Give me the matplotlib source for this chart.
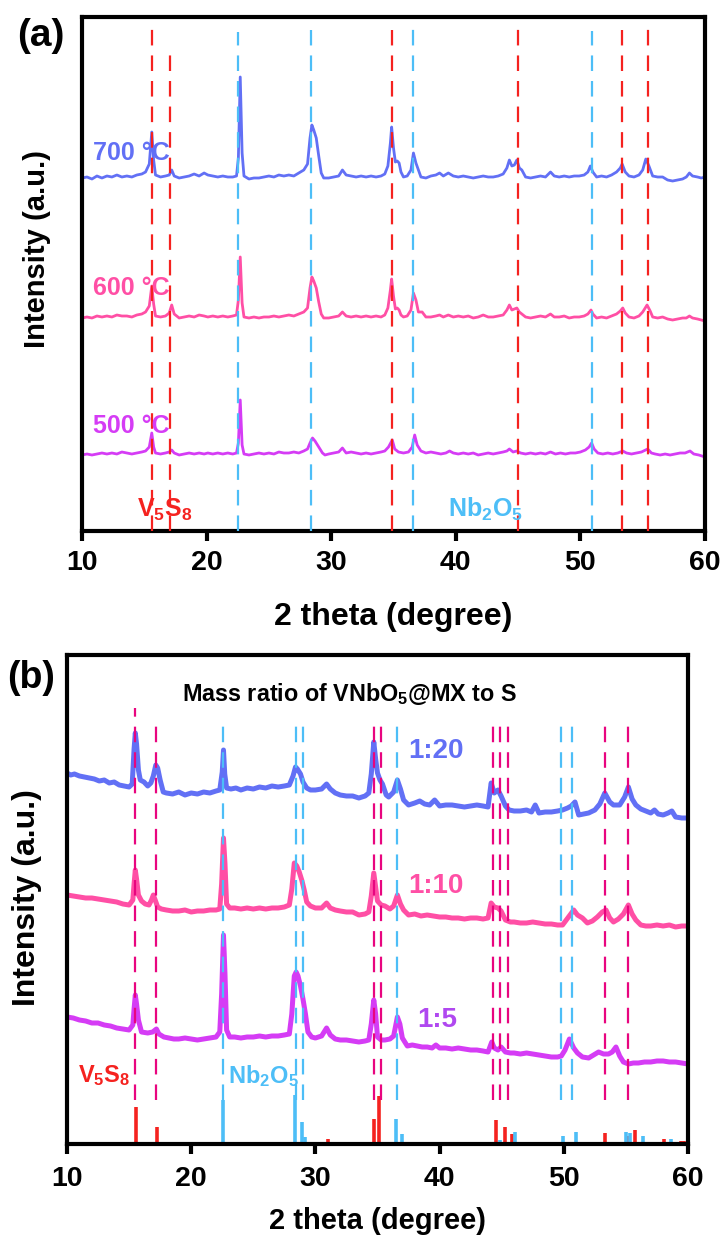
import matplotlib
matplotlib.use("Agg")
import matplotlib.pyplot as plt
import numpy as np

plt.rcParams['font.family'] = ['Liberation Sans', 'DejaVu Sans']
plt.rcParams['font.weight'] = 'bold'
plt.rcParams['mathtext.fontset'] = 'custom'
plt.rcParams['mathtext.rm'] = 'Liberation Sans:bold'
plt.rcParams['mathtext.bf'] = 'Liberation Sans:bold'
plt.rcParams['mathtext.it'] = 'Liberation Sans:bold:italic'

# ---------------- Panel (a): calcination temperature ----------------
a_x_700 = [10.0, 10.4, 10.8, 11.2, 11.6, 12.0, 12.4, 12.8, 13.2, 13.6, 14.0, 14.4, 14.8, 15.1, 15.4, 15.6, 15.75, 15.9,
           16.3, 16.7, 17.0, 17.2, 17.4, 17.8, 18.2, 18.6, 19.0, 19.4, 19.8, 20.1, 20.5, 20.9, 21.3, 21.7, 22.1, 22.4,
           22.55, 22.7, 22.85, 23.0, 23.4, 23.8, 24.2, 24.6, 25.0, 25.4, 25.8, 26.2, 26.6, 27.0, 27.4, 27.8, 28.1, 28.3,
           28.45, 28.6, 28.8, 29.0, 29.2, 29.4, 29.8, 30.2, 30.6, 30.9, 31.2, 31.6, 32.0, 32.4, 32.8, 33.2, 33.6, 34.0,
           34.3, 34.55, 34.75, 34.85, 35.0, 35.15, 35.3, 35.45, 35.6, 35.8, 36.1, 36.4, 36.6, 36.8, 37.0, 37.2, 37.6,
           38.0, 38.4, 38.7, 39.0, 39.4, 39.8, 40.2, 40.6, 41.0, 41.4, 41.8, 42.2, 42.6, 43.0, 43.4, 43.8, 44.1, 44.3,
           44.5, 44.7, 44.9, 45.1, 45.3, 45.6, 46.0, 46.4, 46.8, 47.2, 47.6, 47.9, 48.3, 48.7, 49.1, 49.5, 49.9, 50.3,
           50.6, 50.8, 51.0, 51.3, 51.7, 52.1, 52.5, 52.9, 53.2, 53.35, 53.6, 53.9, 54.3, 54.7, 55.0, 55.25, 55.5, 55.8,
           56.2, 56.6, 57.0, 57.4, 57.8, 58.2, 58.5, 58.75, 59.0, 59.4, 59.7, 60.0]
a_y_700 = [0, 1, -1, 2, 0, 2, 1, 3, 1, 2, 1, 3, 4, 6, 14, 46, 18, 3,
           1, 2, 3, 8, 2, 0, 1, 2, 4, 2, 5, 3, 2, 1, 2, 1, 1, 2,
           20, 101, 25, 2, -1, 0, 0, 1, 2, 1, 3, 2, 3, 2, 5, 8, 14, 40,
           53, 48, 40, 22, 5, 0, 0, 1, 2, 8, 3, 2, 1, 2, 1, 2, 1, 2,
           4, 12, 35, 51, 30, 16, 17, 15, 6, 1, 2, 8, 25, 15, 8, 1, 0,
           2, 3, 5, 2, 5, 2, 1, 2, 1, 0, 1, 2, 1, 1, 2, 4, 10, 18,
           12, 13, 18, 10, 8, 1, 0, 1, 2, 1, 6, 2, 1, 2, 1, 2, 2, 3,
           6, 12, 6, 1, 2, 1, 3, 6, 10, 14, 6, 2, 1, 3, 8, 19, 12, 2,
           1, 1, -2, -3, -2, -1, 1, 5, 2, 1, 0, 1]

a_x_600 = [10.0, 10.4, 10.8, 11.2, 11.6, 12.0, 12.4, 12.8, 13.2, 13.6, 14.0, 14.4, 14.8, 15.1, 15.4, 15.6, 15.75, 15.9,
           16.3, 16.7, 17.0, 17.2, 17.4, 17.8, 18.2, 18.6, 19.0, 19.4, 19.8, 20.1, 20.5, 20.9, 21.3, 21.7, 22.1, 22.4,
           22.55, 22.7, 22.85, 23.0, 23.4, 23.8, 24.2, 24.6, 25.0, 25.4, 25.8, 26.2, 26.6, 27.0, 27.4, 27.8, 28.1, 28.3,
           28.45, 28.6, 28.8, 29.0, 29.2, 29.4, 29.8, 30.2, 30.6, 30.9, 31.2, 31.6, 32.0, 32.4, 32.8, 33.2, 33.6, 34.0,
           34.3, 34.55, 34.75, 34.85, 35.0, 35.15, 35.3, 35.45, 35.6, 35.8, 36.1, 36.4, 36.6, 36.8, 37.0, 37.3, 37.6,
           38.0, 38.4, 38.7, 39.0, 39.4, 39.8, 40.2, 40.6, 41.0, 41.4, 41.8, 42.2, 42.6, 43.0, 43.4, 43.8, 44.1, 44.3,
           44.5, 44.7, 44.9, 45.1, 45.3, 45.6, 46.0, 46.4, 46.8, 47.2, 47.6, 47.9, 48.3, 48.7, 49.1, 49.5, 49.9, 50.3,
           50.6, 50.85, 51.0, 51.3, 51.7, 52.1, 52.5, 52.9, 53.2, 53.4, 53.6, 53.9, 54.3, 54.7, 55.0, 55.35, 55.6, 55.8,
           56.2, 56.6, 57.0, 57.4, 57.8, 58.2, 58.5, 58.75, 59.0, 59.4, 59.7, 60.0]
a_y_600 = [0, 1, 0, 2, 1, 2, 1, 3, 2, 2, 1, 3, 4, 6, 12, 32, 14, 2,
           1, 2, 5, 13, 4, 0, 1, 2, 1, 3, 2, 1, 2, 1, 2, 1, 2, 3,
           18, 61, 15, 1, 0, 1, 0, 1, 1, 2, 1, 2, 3, 2, 4, 6, 10, 30,
           41, 37, 30, 16, 4, 0, 0, 1, 2, 6, 2, 1, 2, 1, 2, 1, 2, 1,
           3, 10, 28, 39, 22, 9, 10, 8, 3, 1, 2, 8, 25, 18, 6, 6, 1,
           1, 2, 3, 1, 3, 1, 2, 1, 2, 0, 1, 3, 1, 1, 2, 3, 8, 13,
           8, 9, 10, 6, 4, 1, 0, 1, 2, 1, 4, 1, 1, 2, 0, 1, 1, 2,
           4, 8, 4, 0, 1, 0, 2, 4, 7, 10, 5, 1, 0, 2, 6, 13, 7, 1,
           0, 1, -1, -2, -1, 0, 0, 2, 0, -1, -2, -3]

a_x_500 = [10.0, 10.4, 10.8, 11.2, 11.6, 12.0, 12.4, 12.8, 13.2, 13.6, 14.0, 14.4, 14.8, 15.1, 15.4, 15.6, 15.75, 15.9,
           16.3, 16.7, 17.0, 17.2, 17.4, 17.8, 18.2, 18.6, 19.0, 19.4, 19.8, 20.1, 20.5, 20.9, 21.3, 21.7, 22.1, 22.4,
           22.55, 22.7, 22.85, 23.0, 23.4, 23.8, 24.2, 24.6, 25.0, 25.4, 25.8, 26.2, 26.6, 27.0, 27.4, 27.8, 28.1, 28.3,
           28.5, 28.7, 28.9, 29.1, 29.3, 29.5, 29.8, 30.2, 30.6, 30.9, 31.2, 31.6, 32.0, 32.4, 32.8, 33.2, 33.6, 34.0,
           34.3, 34.6, 34.9, 35.1, 35.4, 35.8, 36.2, 36.5, 36.7, 36.9, 37.2, 37.6, 38.0, 38.4, 38.8, 39.2, 39.5, 39.8,
           40.2, 40.6, 41.0, 41.4, 41.8, 42.2, 42.6, 43.0, 43.4, 43.8, 44.1, 44.3, 44.6, 44.9, 45.2, 45.6, 46.0, 46.4,
           46.8, 47.2, 47.6, 48.0, 48.4, 48.8, 49.2, 49.6, 50.0, 50.4, 50.7, 50.9, 51.1, 51.4, 51.8, 52.2, 52.6, 53.0,
           53.4, 53.7, 54.1, 54.5, 54.9, 55.4, 55.7, 56.0, 56.4, 56.8, 57.2, 57.6, 58.0, 58.4, 58.8, 59.1, 59.5, 60.0]
a_y_500 = [0, 1, 0, 1, 2, 1, 2, 1, 3, 2, 1, 2, 3, 4, 8, 22, 8, 2,
           1, 2, 3, 5, 2, 0, 1, 2, 1, 2, 1, 2, 1, 2, 1, 2, 1, 2,
           12, 55, 10, 1, 0, 1, 2, 1, 2, 1, 3, 2, 2, 3, 2, 4, 6, 12,
           17, 14, 10, 6, 2, 0, 1, 2, 3, 7, 2, 3, 2, 1, 2, 1, 2, 3,
           4, 8, 15, 6, 3, 2, 3, 8, 20, 10, 4, 2, 3, 2, 1, 2, 4, 2,
           1, 2, 1, 2, 0, 1, 2, 1, 2, 3, 4, 6, 3, 4, 2, 1, 2, 1,
           2, 1, 3, 1, 2, 1, 2, 2, 3, 5, 8, 12, 6, 2, 1, 2, 1, 2,
           4, 2, 1, 2, 3, 6, 2, 1, 0, 1, 0, 1, 2, 2, 4, 1, 0, -2]

a_offsets = [353, 213, 76]
a_labels = ["700 °C", "600 °C", "500 °C"]
a_label_y = [371, 236, 98]

a_v5s8_pos = [15.6, 17.1, 34.9, 45.0, 53.3, 55.4]
a_v5s8_top = [506, 484, 501, 503, 501, 503]
a_nb2o5_pos = [22.5, 28.4, 36.6, 50.9]
a_nb2o5_top = [499, 501, 502, 500]

# ---------------- Panel (b): mass ratio ----------------
b_x_20 = [10.0, 10.3, 10.6, 11.0, 11.4, 11.8, 12.2, 12.6, 13.0, 13.4, 13.8, 14.2, 14.6, 15.0, 15.25, 15.4, 15.5, 15.6,
          15.75, 15.9, 16.2, 16.5, 16.75, 16.95, 17.15, 17.3, 17.5, 17.75, 18.0, 18.5, 19.0, 19.5, 20.0, 20.5, 21.0,
          21.5, 22.0, 22.3, 22.5, 22.6, 22.7, 22.85, 23.2, 23.6, 24.0, 24.5, 25.0, 25.5, 26.0, 26.5, 27.0, 27.5, 27.9,
          28.2, 28.4, 28.55, 28.8, 29.0, 29.3, 29.6, 30.0, 30.5, 30.9, 31.2, 31.6, 32.0, 32.5, 33.0, 33.5, 34.0, 34.3,
          34.5, 34.7, 34.85, 35.0, 35.2, 35.4, 35.7, 35.9, 36.3, 36.6, 36.85, 37.1, 37.5, 38.0, 38.4, 38.8, 39.2, 39.6,
          40.0, 40.5, 41.0, 41.5, 42.0, 42.5, 43.0, 43.5, 43.9, 44.15, 44.4, 44.7, 44.95, 45.3, 45.6, 46.0, 46.5, 47.0,
          47.4, 47.7, 48.0, 48.5, 49.0, 49.5, 49.9, 50.3, 50.6, 50.9, 51.2, 51.6, 52.0, 52.5, 52.9, 53.3, 53.7, 54.0,
          54.5, 54.9, 55.2, 55.5, 55.8, 56.2, 56.6, 57.0, 57.3, 57.6, 58.0, 58.4, 58.7, 59.0, 59.5, 60.0]
b_y_20 = [371, 369, 370, 368, 367, 366, 365, 363, 364, 361, 362, 359, 358, 357, 360, 395, 411, 400,
          374, 364, 362, 358, 361, 368, 379, 376, 364, 352, 351, 350, 352, 349, 351, 350, 352,
          351, 353, 354, 372, 394, 370, 356, 355, 356, 354, 356, 355, 357, 356, 358, 357, 358, 359,
          368, 377, 375, 370, 362, 356, 354, 354, 355, 360, 355, 351, 349, 348, 348, 346, 348, 351,
          370, 402, 385, 371, 364, 360, 349, 347, 352, 364, 355, 344, 339, 341, 343, 340, 339, 344,
          338, 339, 339, 338, 337, 338, 339, 338, 337, 361, 351, 354, 348, 338, 334, 333, 333, 334,
          332, 339, 331, 332, 332, 333, 334, 336, 338, 342, 329, 330, 331, 334, 340, 351, 342, 339,
          339, 347, 357, 345, 339, 335, 333, 331, 334, 330, 329, 331, 333, 327, 326, 326]

b_x_10 = [10.0, 10.5, 11.0, 11.5, 12.0, 12.5, 13.0, 13.5, 14.0, 14.5, 15.0, 15.3, 15.4, 15.5, 15.6, 15.75, 16.0, 16.3,
          16.6, 16.8, 16.95, 17.1, 17.3, 17.6, 18.0, 18.5, 19.0, 19.5, 20.0, 20.5, 21.0, 21.5, 22.0, 22.3, 22.45, 22.6,
          22.72, 22.85, 23.1, 23.5, 24.0, 24.5, 25.0, 25.5, 26.0, 26.5, 27.0, 27.5, 27.9, 28.1, 28.3, 28.5, 28.7, 28.9,
          29.1, 29.3, 29.6, 30.0, 30.5, 30.9, 31.2, 31.6, 32.0, 32.5, 33.0, 33.5, 34.0, 34.3, 34.5, 34.7, 34.85, 35.0,
          35.3, 35.6, 36.0, 36.3, 36.6, 36.85, 37.1, 37.5, 38.0, 38.5, 39.0, 39.5, 40.0, 40.5, 41.0, 41.5, 42.0, 42.5,
          43.0, 43.5, 43.9, 44.15, 44.4, 44.7, 44.95, 45.3, 45.7, 46.0, 46.5, 47.0, 47.5, 48.0, 48.5, 49.0, 49.5, 49.9,
          50.2, 50.5, 50.8, 51.1, 51.5, 51.9, 52.3, 52.7, 53.1, 53.4, 53.7, 54.0, 54.4, 54.8, 55.2, 55.5, 55.8, 56.2,
          56.6, 57.0, 57.5, 58.0, 58.5, 59.0, 59.5, 60.0]
b_y_10 = [249, 248, 247, 246, 246, 245, 244, 243, 242, 240, 239, 244, 260, 274, 265, 249, 243, 240,
          239, 244, 249, 244, 237, 235, 234, 233, 233, 234, 232, 233, 233, 234, 234, 235, 260, 306,
          280, 240, 236, 236, 235, 236, 235, 236, 235, 236, 236, 237, 239, 255, 281, 278, 272, 264,
          254, 242, 238, 236, 236, 241, 236, 234, 233, 232, 232, 229, 230, 232, 248, 271, 257, 243,
          239, 238, 235, 238, 249, 240, 234, 229, 230, 228, 229, 228, 227, 227, 226, 226, 225, 226,
          226, 225, 226, 241, 237, 236, 233, 224, 222, 222, 221, 221, 222, 221, 220, 220, 219, 219,
          224, 229, 234, 229, 226, 221, 223, 227, 232, 234, 226, 222, 225, 230, 239, 230, 224, 219,
          218, 218, 219, 218, 219, 217, 218, 218]

b_x_5 = [10.0, 10.5, 11.0, 11.5, 12.0, 12.5, 13.0, 13.5, 14.0, 14.5, 15.0, 15.3, 15.4, 15.5, 15.6, 15.75, 16.0, 16.5,
         16.9, 17.2, 17.4, 17.8, 18.2, 18.6, 19.0, 19.5, 20.0, 20.5, 21.0, 21.5, 22.0, 22.3, 22.45, 22.6, 22.72, 22.85,
         23.1, 23.5, 24.0, 24.5, 25.0, 25.5, 26.0, 26.5, 27.0, 27.5, 27.9, 28.1, 28.3, 28.45, 28.6, 28.8, 29.0, 29.2,
         29.4, 29.7, 30.0, 30.5, 30.9, 31.2, 31.6, 32.0, 32.5, 33.0, 33.5, 34.0, 34.3, 34.5, 34.7, 34.85, 35.0, 35.3,
         35.6, 36.0, 36.3, 36.6, 36.8, 37.0, 37.4, 37.8, 38.2, 38.6, 39.0, 39.4, 39.7, 40.0, 40.5, 41.0, 41.5, 42.0,
         42.5, 43.0, 43.5, 43.9, 44.2, 44.4, 44.7, 44.95, 45.3, 45.7, 46.0, 46.5, 47.0, 47.5, 48.0, 48.5, 49.0, 49.5,
         49.8, 50.1, 50.45, 50.8, 51.1, 51.5, 52.0, 52.4, 52.8, 53.2, 53.6, 53.9, 54.2, 54.5, 54.8, 55.2, 55.6, 56.0,
         56.5, 57.0, 57.5, 58.0, 58.5, 59.0, 59.5, 60.0]
b_y_5 = [127, 126, 124, 123, 121, 121, 119, 118, 116, 115, 114, 119, 135, 149, 140, 124, 112, 111,
         112, 115, 110, 107, 106, 105, 105, 106, 105, 104, 105, 106, 107, 112, 150, 209, 170, 114,
         107, 107, 106, 107, 107, 108, 107, 108, 108, 109, 110, 130, 168, 172, 168, 158, 145, 130,
         112, 107, 106, 108, 116, 109, 105, 104, 104, 103, 102, 103, 104, 120, 144, 130, 107, 104,
         104, 105, 108, 127, 120, 106, 98, 99, 98, 97, 97, 96, 99, 96, 96, 95, 96, 95,
         94, 94, 93, 92, 102, 96, 94, 97, 92, 91, 91, 90, 91, 90, 89, 88, 87, 87,
         88, 94, 105, 96, 91, 87, 86, 89, 92, 90, 90, 92, 97, 88, 82, 80, 81, 81,
         82, 82, 83, 83, 82, 82, 81, 80]

b_labels = ["1:20", "1:10", "1:5"]
b_label_y = [386, 251, 117]

# reference patterns (stick positions and relative heights)
ref_v5s8_pos = [15.55, 17.25, 21.8, 31.0, 34.75, 35.1, 35.6, 44.55, 45.25, 45.85, 48.2, 53.3, 55.1, 55.7, 58.1, 59.4, 59.7]
ref_v5s8_int = [37, 17, 1, 5, 25, 48, 2, 24, 17, 10, 2, 11, 8, 14, 5, 3, 3]
ref_nb2o5_pos = [16.9, 22.6, 28.35, 28.9, 29.15, 32.7, 36.5, 36.95, 42.5, 44.9, 46.1, 49.0, 49.9, 51.0, 55.0, 55.35, 56.4, 58.6]
ref_nb2o5_int = [2, 44, 49, 22, 7, 2, 25, 10, 1, 4, 12, 2, 8, 12, 12, 11, 8, 5]

b_v5s8_pos = [15.5, 17.2, 34.7, 35.3, 44.3, 44.9, 45.5, 53.3, 55.2]
b_v5s8_top = [436, 422, 424, 424, 424, 424, 427, 426, 426]
b_nb2o5_pos = [22.6, 28.4, 29.0, 36.6, 49.8, 50.7]
b_nb2o5_top = [426, 422, 422, 422, 424, 424]

# ---------------- styling ----------------
C700 = '#6270F5'
C600 = '#FF4FA5'
C500 = '#D53CF5'
C500T = '#B048F0'
RED = '#F5221F'
BLUE = '#4DBEF7'
PINK = '#E8057F'

W, H = 723, 1236
fig = plt.figure(figsize=(W / 100, H / 100), dpi=100)
ax_a = fig.add_axes([82 / W, 1 - 531 / H, (705 - 82) / W, (531 - 17) / H])
ax_b = fig.add_axes([67 / W, 1 - 1144 / H, (688 - 67) / W, (1144 - 655) / H])


def style_axes(ax, ymax):
    ax.set_xlim(10, 60)
    ax.set_ylim(0, ymax)
    ax.set_xticks([10, 20, 30, 40, 50, 60])
    for s in ax.spines.values():
        s.set_linewidth(3)
    ax.tick_params(axis='x', direction='out', length=7, width=3, labelsize=20.5)
    ax.tick_params(axis='y', left=False, labelleft=False)
    for t in ax.get_xticklabels():
        t.set_fontweight('bold')


# Panel (a)
style_axes(ax_a, 514)
ax_a.tick_params(axis='x', pad=7)
series_a = [(a_x_700, a_y_700, C700), (a_x_600, a_y_600, C600), (a_x_500, a_y_500, C500)]
for (xs, ys, c), off, lab, ly in zip(series_a, a_offsets, a_labels, a_label_y):
    ax_a.plot(xs, np.array(ys) + off, color=c, lw=2.0, zorder=2)
    ax_a.text(10.9, ly, lab, color=c, fontsize=18, fontweight='bold', va='baseline', ha='left', zorder=4)

for xp, top in zip(a_v5s8_pos, a_v5s8_top):
    ax_a.vlines(xp, 0, top, colors=RED, lw=1.6, linestyles=(0, (7, 4.5)), zorder=3)
for xp, top in zip(a_nb2o5_pos, a_nb2o5_top):
    ax_a.vlines(xp, 0, top, colors=BLUE, lw=1.6, linestyles=(0, (7, 4.5)), zorder=3)

ax_a.text(14.4, 14, r"V$_{\mathbf{5}}$S$_{\mathbf{8}}$", color=RED, fontsize=18, fontweight='bold', va='baseline', ha='left')
ax_a.text(39.4, 14, r"Nb$_{\mathbf{2}}$O$_{\mathbf{5}}$", color=BLUE, fontsize=18, fontweight='bold', va='baseline', ha='left')

ax_a.set_xlabel("2 theta (degree)", fontsize=23, fontweight='bold')
ax_a.xaxis.set_label_coords(0.5, -0.138)
ax_a.xaxis.label.set_va('top')
ax_a.set_ylabel("Intensity (a.u.)", fontsize=21, fontweight='bold')
ax_a.yaxis.label.set_rotation_mode('default')
ax_a.yaxis.label.set_va('center')
ax_a.yaxis.set_label_coords((37 - 82) / 623, (531 - 249) / 514)

# Panel (b)
style_axes(ax_b, 489)
ax_b.tick_params(axis='x', pad=9)
series_b = [(b_x_20, b_y_20, C700), (b_x_10, b_y_10, C600), (b_x_5, b_y_5, C500)]
for xs, ys, c in series_b:
    ax_b.plot(xs, ys, color=c, lw=3.6, zorder=2, solid_joinstyle='round')

ax_b.text(37.45, b_label_y[0], b_labels[0], color=C700, fontsize=20, fontweight='bold', va='baseline', ha='left')
ax_b.text(37.5, b_label_y[1], b_labels[1], color=C600, fontsize=20, fontweight='bold', va='baseline', ha='left')
ax_b.text(38.2, b_label_y[2], b_labels[2], color=C500T, fontsize=20, fontweight='bold', va='baseline', ha='left')

ax_b.vlines(ref_v5s8_pos, 0, ref_v5s8_int, colors=RED, lw=2.6, zorder=2)
ax_b.vlines(ref_nb2o5_pos, 0, ref_nb2o5_int, colors=BLUE, lw=2.6, zorder=2)

for xp, top in zip(b_v5s8_pos, b_v5s8_top):
    ax_b.vlines(xp, 44, top, colors=PINK, lw=1.6, linestyles=(0, (7, 4.5)), zorder=3)
for xp, top in zip(b_nb2o5_pos, b_nb2o5_top):
    ax_b.vlines(xp, 44, top, colors=BLUE, lw=1.6, linestyles=(0, (7, 4.5)), zorder=3)

ax_b.text(19.26, 443, r"Mass ratio of VNbO$_{\mathbf{5}}$@MX to S", color='black', fontsize=16.8,
          fontweight='bold', va='baseline', ha='left')
ax_b.text(10.9, 62, r"V$_{\mathbf{5}}$S$_{\mathbf{8}}$", color=RED, fontsize=17, fontweight='bold', va='baseline', ha='left')
ax_b.text(23.0, 61, r"Nb$_{\mathbf{2}}$O$_{\mathbf{5}}$", color=BLUE, fontsize=17, fontweight='bold', va='baseline', ha='left')

ax_b.set_xlabel("2 theta (degree)", fontsize=21, fontweight='bold')
ax_b.xaxis.set_label_coords(0.5, -0.129)
ax_b.xaxis.label.set_va('top')
ax_b.set_ylabel("Intensity (a.u.)", fontsize=23, fontweight='bold')
ax_b.yaxis.label.set_rotation_mode('default')
ax_b.yaxis.label.set_va('center')
ax_b.yaxis.set_label_coords((27.5 - 67) / 621, (1144 - 898) / 489)

fig.text(17 / W, 1 - 18 / H, "(a)", fontsize=28, fontweight='bold', va='top', ha='left')
fig.text(7 / W, 1 - 660 / H, "(b)", fontsize=27, fontweight='bold', va='top', ha='left')

fig.savefig("out.png", dpi=100)
